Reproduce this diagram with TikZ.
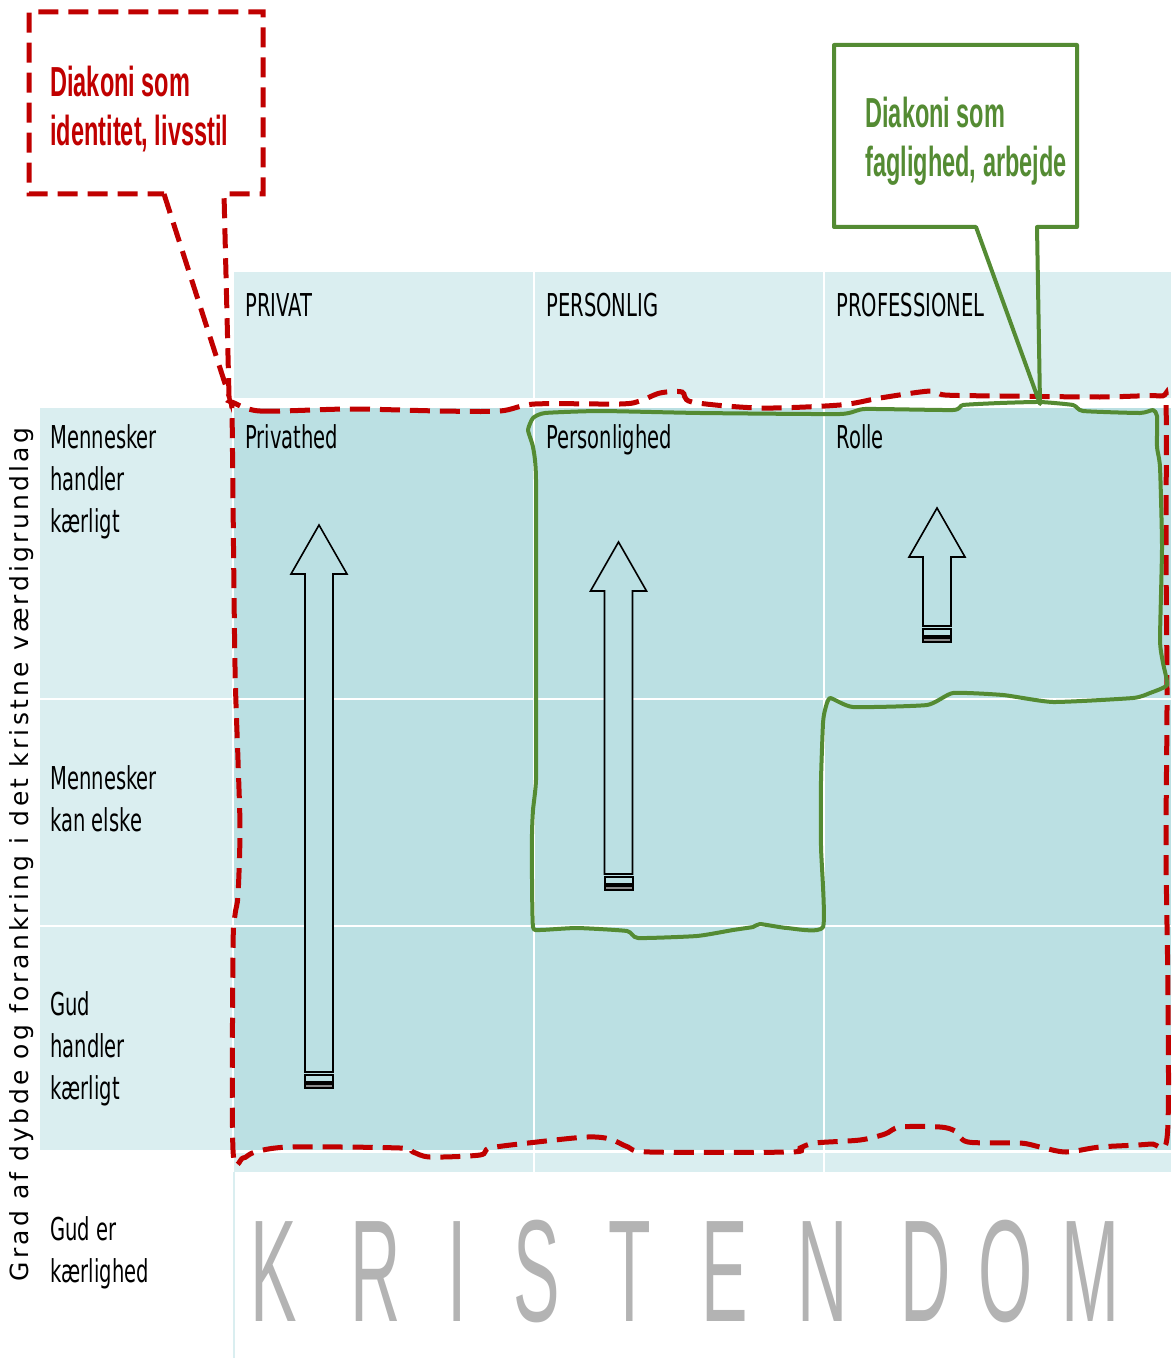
\documentclass[tikz,border=0pt]{standalone}
\usepackage{fontspec}
\newfontfamily\cellfont[FakeStretch=0.62]{DejaVu Sans}
\newfontfamily\sidefont[LetterSpace=13]{DejaVu Sans}
\newfontfamily\calloutfont[FakeStretch=0.56]{Liberation Sans}
\newfontfamily\bigfont[FakeStretch=0.48]{Liberation Sans}
\definecolor{paleteal}{HTML}{DAEEF0}
\definecolor{cellteal}{HTML}{BBE0E3}
\definecolor{diared}{HTML}{C00000}
\definecolor{diagreen}{HTML}{548B33}
\definecolor{letgray}{HTML}{B3B3B3}
% block arrow: centre x, tip y, bottom y
\newcommand\blockarrow[3]{%
  \draw[line width=0.8pt,fill=cellteal] (#1-14,#3) -- (#1-14,#2+49) -- (#1-28,#2+49) -- (#1,#2)
    -- (#1+28,#2+49) -- (#1+14,#2+49) -- (#1+14,#3) -- cycle;
  \draw[line width=1pt] (#1-14,#3+3) rectangle (#1+14,#3+9.5);
  \draw[line width=1pt,fill=black!45] (#1-14,#3+12) rectangle (#1+14,#3+16);
}
\begin{document}
\begin{tikzpicture}[x=0.5pt,y=-0.5pt,
    celltext/.style={font=\cellfont\fontsize{15.75pt}{21pt}\selectfont,inner sep=0pt,anchor=base west,align=left},
    callout/.style={font=\calloutfont\bfseries\fontsize{21pt}{24.5pt}\selectfont,inner sep=0pt,anchor=base west,align=left},
    redline/.style={diared,line width=2.5pt,dash pattern=on 10pt off 5pt},
    greenline/.style={diagreen,line width=2pt,line join=round}]
\useasboundingbox (0,0) rectangle (1171,1358);
% cells
\foreach \xa/\xb in {234/533,535/823,825/1171}{
  \fill[paleteal] (\xa,272) rectangle (\xb,398);
  \fill[paleteal] (\xa,1153) rectangle (\xb,1172);
  \foreach \ya/\yb in {408/698,700/925,927/1150}
    \fill[cellteal] (\xa,\ya) rectangle (\xb,\yb);
}
\foreach \ya/\yb in {408/698,700/925,927/1150}
  \fill[paleteal] (40,\ya) rectangle (232,\yb);
\draw[paleteal,line width=0.6pt] (234,1172) -- (234,1358);
% headers and labels (multi-line nodes sit on their last line)
\node[celltext] (privat) at (245,316) {PRIVAT};
\node[celltext] (personlig) at (546,316) {PERSONLIG};
\node[celltext] (professionel) at (836,316) {PROFESSIONEL};
\node[celltext] (privathed) at (245,448) {Privathed};
\node[celltext] (personlighed) at (546,448) {Personlighed};
\node[celltext] (rolle) at (836,448) {Rolle};
\node[celltext] (row1) at (50,532) {Mennesker\\handler\\kærligt};
\node[celltext] (row2) at (50,831) {Mennesker\\kan elske};
\node[celltext] (row3) at (50,1099) {Gud\\handler\\kærligt};
\node[celltext] (row4) at (50,1282) {Gud er\\kærlighed};
\node[rotate=90,anchor=base west,inner sep=0pt,font=\sidefont\fontsize{12.5pt}{14pt}\selectfont] (axis) at (28.5,1282) {Grad af dybde og forankring i det kristne værdigrundlag};
\foreach \c/\x [count=\i] in {K/274,R/376,I/457,S/537,T/630,E/725,N/823,D/926,O/1006,M/1091}
  \node[anchor=base,inner sep=0pt,text=letgray,font=\bigfont\fontsize{72.6pt}{80pt}\selectfont] (letter\i) at (\x,1321) {\c};
% arrows
\blockarrow{319}{525}{1072}
\blockarrow{618.5}{542}{874}
\blockarrow{937}{508}{626}
% red callout and outline
\draw[redline] (164,194) -- (229,396) -- (224,194) -- (263,194) -- (263,12) -- (29,12) -- (29,194) -- cycle;
\node[callout,text=diared] (identitet) at (50,146) {Diakoni som\\identitet, livsstil};
\draw[redline] plot[smooth cycle,tension=0.5] coordinates {(231,402) (260,411) (350,409) (440,411) (500,411) (535,404)
  (620,404) (640,401) (660,393) (682,392) (692,402) (760,408) (840,405) (880,398) (930,391) (945,395) (1000,396)
  (1100,397) (1160,396) (1166,405) (1166,550) (1167,700) (1166,850) (1168,1000) (1167,1138) (1150,1144) (1100,1147)
  (1066,1152) (1040,1147) (1020,1143) (968,1142) (955,1131) (940,1127) (900,1127) (885,1134) (860,1140) (815,1143)
  (800,1148) (790,1152) (650,1152) (628,1147) (610,1139) (587,1137) (537,1142) (490,1148) (480,1155) (430,1157)
  (413,1152) (400,1148) (290,1147) (255,1152) (243,1158) (233,1150) (233,950) (235,915) (238,895) (240,830)
  (238,760) (235,667) (233,500) (232,410)};
% green callout and outline
\draw[greenline] (976,227) -- (1040,404) -- (1037,227) -- (1077,227) -- (1077,45) -- (834,45) -- (834,227) -- cycle;
\node[callout,text=diagreen] (faglighed) at (865,177) {Diakoni som\\faglighed, arbejde};
\draw[greenline] plot[smooth cycle,tension=0.3] coordinates {(528,430) (533,418) (545,413) (600,411) (700,413) (840,414)
  (865,409) (953,410) (963,405) (1000,403) (1040,402) (1073,405) (1083,411) (1140,413) (1153,410) (1157,416)
  (1157,447) (1160,467) (1162,547) (1160,640) (1163,663) (1167,685) (1150,693) (1133,698) (1053,702) (1003,695)
  (953,693) (927,705) (853,707) (830,698) (825,710) (823,723) (821,780) (821,847) (823,927) (787,928) (760,924)
  (753,927) (733,930) (697,936) (638,938) (627,931) (577,928) (540,930) (533,927) (532,880) (532,833) (533,810)
  (536,780) (536,700) (536,480) (533,447)};
\end{tikzpicture}
\end{document}
